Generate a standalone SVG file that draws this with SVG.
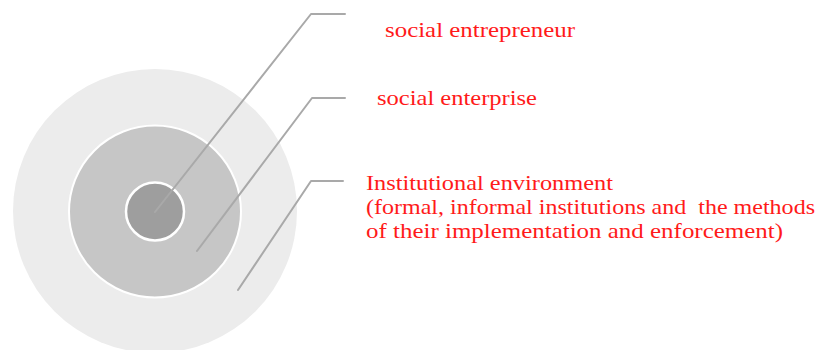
<svg xmlns="http://www.w3.org/2000/svg" width="839" height="350" viewBox="0 0 839 350">
<style>
.lead{fill:none;stroke:#a9a9a9;stroke-width:2;stroke-linecap:round;stroke-linejoin:round}
.lbl{font-family:"Liberation Serif","Times New Roman",serif;font-size:22px;fill:#ff1a1a;white-space:pre}
</style>
<rect width="839" height="350" fill="#ffffff"/>
<g id="outer"><circle cx="155" cy="211" r="142" fill="#ececec"/></g>
<g id="middle"><circle cx="155" cy="211.5" r="86" fill="#c6c6c6" stroke="#ffffff" stroke-width="2"/></g>
<g id="inner"><circle cx="155" cy="211.5" r="29" fill="#9e9e9e" stroke="#ffffff" stroke-width="2.5"/></g>
<g id="connectors">
<path class="lead" d="M155,212 L311,14 L345,14"/>
<path class="lead" d="M197,251 L312,98 L345,98"/>
<path class="lead" d="M238,290 L311,181 L343,181"/>
</g>
<g id="label1"><text class="lbl" x="385" y="37" textLength="190" lengthAdjust="spacingAndGlyphs">social entrepreneur</text></g>
<g id="label2"><text class="lbl" x="377" y="105" textLength="160" lengthAdjust="spacingAndGlyphs">social enterprise</text></g>
<g id="label3">
<text class="lbl" x="366" y="190" textLength="247" lengthAdjust="spacingAndGlyphs">Institutional environment</text>
<text class="lbl" x="366" y="214" textLength="449" lengthAdjust="spacingAndGlyphs">(formal, informal institutions and  the methods</text>
<text class="lbl" x="366" y="238" textLength="417" lengthAdjust="spacingAndGlyphs">of their implementation and enforcement)</text>
</g>
</svg>
